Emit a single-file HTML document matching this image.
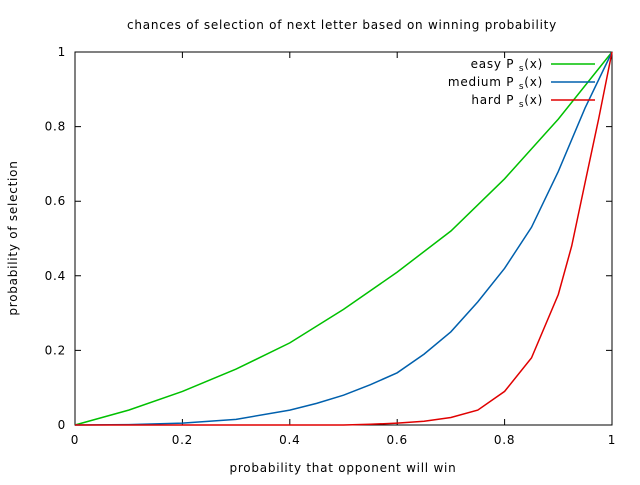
<!DOCTYPE html>
<html><head><meta charset="utf-8"><style>
body{margin:0;background:#fff}
text{font-family:"DejaVu Sans","Liberation Sans",sans-serif;font-size:12px;letter-spacing:0.75px;fill:#000}
</style></head><body>
<svg id="chart" width="640" height="480" xmlns="http://www.w3.org/2000/svg">
<rect width="640" height="480" fill="#fff"/>
<text x="342" y="29" text-anchor="middle">chances of selection of next letter based on winning probability</text>
<text x="343" y="472" text-anchor="middle">probability that opponent will win</text>
<text x="17" y="238" text-anchor="middle" transform="rotate(-90 17 238)">probability of selection</text>
<rect x="75" y="52" width="537" height="373" fill="none" stroke="#000" stroke-width="1"/>
<g id="ticks"></g>
<g id="series"></g>
<g id="legend"></g>
</svg>
<script>
const xTicks=[0,0.2,0.4,0.6,0.8,1];
const yTicks=[0,0.2,0.4,0.6,0.8,1];
const easyX=[0,0.1,0.2,0.3,0.4,0.5,0.6,0.7,0.8,0.9,1];
const easyY=[0,0.04,0.09,0.15,0.22,0.31,0.41,0.52,0.66,0.82,1];
const mediumX=[0,0.1,0.2,0.3,0.4,0.45,0.5,0.55,0.6,0.65,0.7,0.75,0.8,0.85,0.9,0.95,1];
const mediumY=[0,0.001,0.005,0.015,0.04,0.058,0.08,0.108,0.14,0.19,0.25,0.33,0.42,0.53,0.68,0.85,1];
const hardX=[0,0.5,0.55,0.6,0.65,0.7,0.75,0.8,0.85,0.9,0.925,0.95,0.975,1];
const hardY=[0,0,0.002,0.005,0.01,0.02,0.04,0.09,0.18,0.35,0.48,0.65,0.82,1];
const seriesNames=["easy","medium","hard"];
const seriesColors=["#00c000","#0060ad","#e00000"];
const NS="http://www.w3.org/2000/svg";
const X0=75,X1=612,Y0=425,Y1=52;
const sx=v=>X0+v*(X1-X0), sy=v=>Y0-v*(Y0-Y1);
function mk(t,a,p){const e=document.createElementNS(NS,t);for(const k in a)e.setAttribute(k,a[k]);p.appendChild(e);return e;}
const tg=document.getElementById('ticks');
xTicks.forEach(v=>{
 const l=mk('path',{d:`M${sx(v)},${Y0}v-6M${sx(v)},${Y1}v6`,stroke:'#000'},tg);
 
 
 const t=mk('text',{x:sx(v),y:Y0+19,'text-anchor':'middle'},tg);t.textContent=String(v);
 
 
});
yTicks.forEach(v=>{
 const l=mk('path',{d:`M${X0},${sy(v)}h6M${X1},${sy(v)}h-6`,stroke:'#000'},tg);
 
 
 const t=mk('text',{x:X0-9,y:sy(v)+4,'text-anchor':'end'},tg);t.textContent=String(v);
 
 
});
const sg=document.getElementById('series'),lg=document.getElementById('legend');
[[easyX,easyY],[mediumX,mediumY],[hardX,hardY]].forEach((s,i)=>{
 const d=s[0].map((x,j)=>(j?'L':'M')+sx(x).toFixed(1)+','+sy(s[1][j]).toFixed(1)).join('');
 const p=mk('path',{d:d,fill:'none',stroke:seriesColors[i],'stroke-width':1.5},sg);
 
 
 const y=64+i*18;
 const t=mk('text',{x:543,y:y+4,'text-anchor':'end'},lg);
 t.innerHTML=seriesNames[i]+' P <tspan font-size="9" dy="3">s</tspan><tspan dy="-3">(x)</tspan>';
 
 
 const l=mk('path',{d:`M551,${y}H595`,stroke:seriesColors[i],'stroke-width':1.5},lg);
 
 
});
</script>
</body></html>
